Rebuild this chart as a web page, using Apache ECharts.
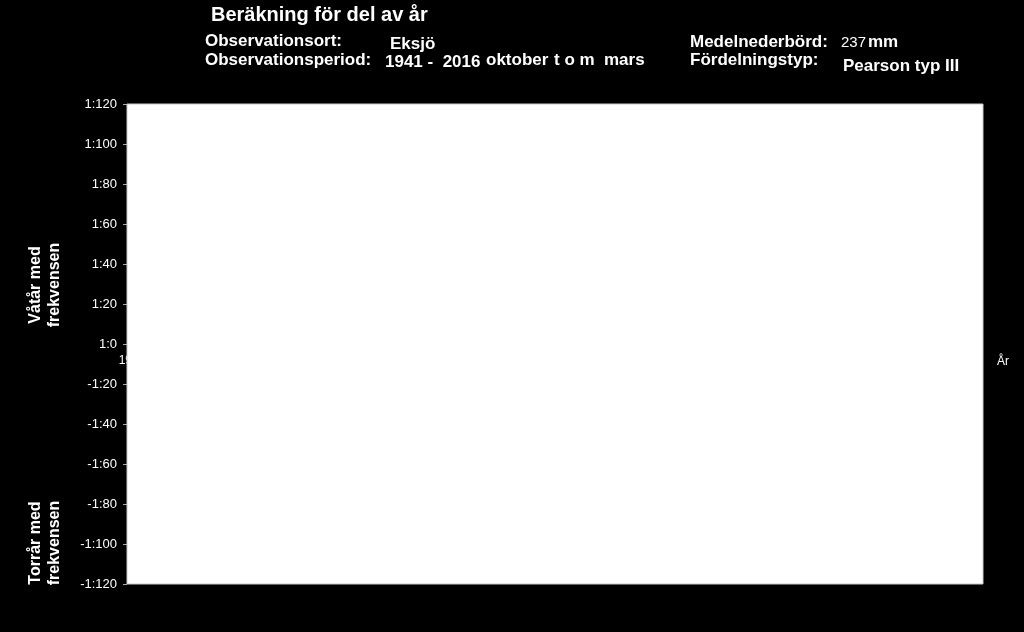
<!DOCTYPE html>
<html>
<head>
<meta charset="utf-8">
<script src="https://cdn.jsdelivr.net/npm/echarts@6/dist/echarts.min.js"></script>
<style>
html,body{margin:0;padding:0;background:#000;}
#c{width:1024px;height:632px;}
</style>
</head>
<body>
<div id="c"></div>
<script>
var years = [1941, 2016];
var yMin = -120, yMax = 120, yStep = 20;
var wetValues = [];
var dryValues = [];
var headerTexts = {
  title: 'Beräkning för del av år',
  place: 'Eksjö',
  periodFrom: '1941',
  periodTo: '2016',
  monthFrom: 'oktober',
  monthTo: 'mars',
  mean: '237',
  dist: 'Pearson typ III'
};

var chart = echarts.init(document.getElementById('c'));
var F = 'Liberation Sans, Arial, sans-serif';
function t(x, y, text, size, bold) {
  return {type: 'text', left: x, top: y, z: 5,
    style: {text: text, fill: '#fff', font: (bold ? 'bold ' : '') + size + 'px ' + F}};
}
var gL = 127, gT = 104, gR = 983, gB = 584;
chart.setOption({
  backgroundColor: '#000',
  animation: false,
  grid: {left: gL, top: gT, right: 1024 - gR, bottom: 632 - gB, containLabel: false},
  xAxis: {
    type: 'value', min: years[0], max: years[1], position: 'bottom',
    offset: -(gB - gT) / 2,
    axisLine: {show: false, onZero: false},
    axisTick: {show: false}, splitLine: {show: false},
    axisLabel: {color: '#fff', fontFamily: F, fontSize: 12, margin: 11, showMinLabel: true, showMaxLabel: false,
      padding: [0, 0, 0, 10],
      formatter: function (v) { return v === years[0] ? String(v) : ''; }},
    name: 'År', nameLocation: 'end', nameGap: 14,
    nameTextStyle: {color: '#fff', fontFamily: F, fontSize: 12, verticalAlign: 'top', padding: [12, 0, 0, 0]}
  },
  yAxis: {
    type: 'value', min: yMin, max: yMax, interval: yStep,
    axisLine: {show: false},
    axisTick: {show: true, length: 4, lineStyle: {color: '#aaa'}},
    splitLine: {show: false},
    axisLabel: {color: '#fff', fontFamily: F, fontSize: 13, margin: 10,
      formatter: function (v) { return v >= 0 ? '1:' + v : '-1:' + (-v); }}
  },
  graphic: [
    {type: 'rect', shape: {x: gL, y: gT, width: gR - gL, height: gB - gT}, z: 2,
      style: {fill: '#fff', stroke: '#c8c8c8', lineWidth: 1}},
    t(211, 5, headerTexts.title, 20, true),
    t(205, 33, 'Observationsort:', 17, true),
    t(390, 36, headerTexts.place, 17, true),
    t(205, 52, 'Observationsperiod:', 17, true),
    t(385, 54, headerTexts.periodFrom + ' -  ' + headerTexts.periodTo, 17, true),
    t(486, 52, headerTexts.monthFrom, 17, true),
    t(554, 52, 't o m', 17, true),
    t(604, 52, headerTexts.monthTo, 17, true),
    t(690, 34, 'Medelnederbörd:', 17, true),
    t(841, 35, headerTexts.mean, 15, false),
    t(868, 34, 'mm', 17, true),
    t(690, 52, 'Fördelningstyp:', 17, true),
    t(843, 58, headerTexts.dist, 17, true),
    {type: 'text', x: 45, y: 285, rotation: Math.PI / 2, z: 5,
      style: {text: 'Våtår med\nfrekvensen', fill: '#fff', font: 'bold 16px ' + F, align: 'center', verticalAlign: 'middle', lineHeight: 19}},
    {type: 'text', x: 45, y: 543, rotation: Math.PI / 2, z: 5,
      style: {text: 'Torrår med\nfrekvensen', fill: '#fff', font: 'bold 16px ' + F, align: 'center', verticalAlign: 'middle', lineHeight: 19}}
  ],
  series: [
    {type: 'line', name: 'Våtår', data: wetValues, z: 6},
    {type: 'line', name: 'Torrår', data: dryValues, z: 6}
  ]
});
</script>
</body>
</html>
